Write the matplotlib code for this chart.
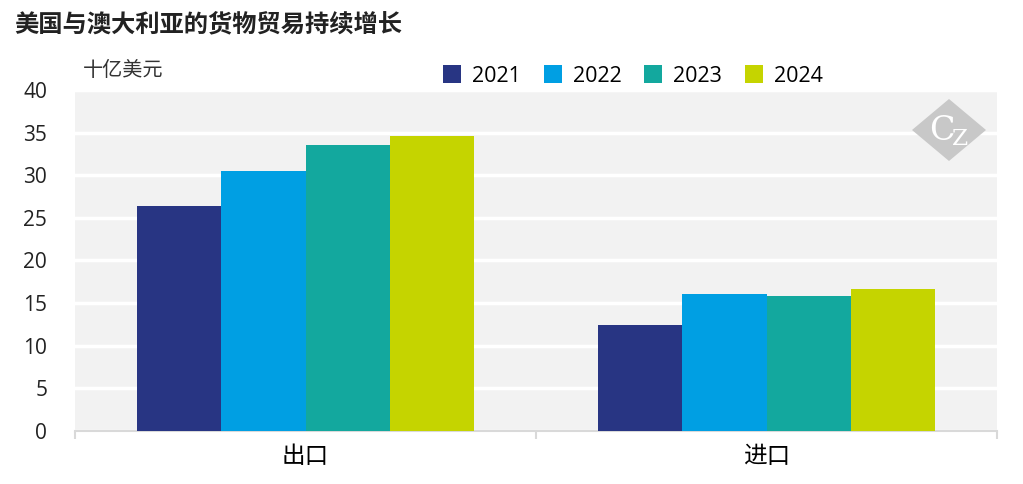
import numpy as np
import matplotlib.pyplot as plt
from matplotlib.patches import Polygon

plt.rcParams['font.family'] = ['Open Sans', 'Noto Sans CJK SC', 'DejaVu Sans']

categories = ['出口', '进口']
years = ['2021', '2022', '2023', '2024']
values = {
    '2021': [26.4, 12.4],
    '2022': [30.5, 16.1],
    '2023': [33.5, 15.8],
    '2024': [34.6, 16.7],
}
colors = ['#283583', '#009fe3', '#13a89e', '#c5d400']

fig = plt.figure(figsize=(10.23, 4.84), dpi=100)
ax = fig.add_axes([75 / 1023, 1 - 431 / 484, 922 / 1023, 341 / 484])
ax.set_facecolor('#f2f2f2')

x = np.arange(len(categories))
w = 0.73 / len(years)
for i, yr in enumerate(years):
    ax.bar(x + (i - 1.5) * w, values[yr], w, color=colors[i], label=yr, zorder=3)

ax.set_xlim(-0.5, 1.5)
ax.set_ylim(0, 40)
ax.set_yticks(np.arange(0, 41, 5))
ax.yaxis.grid(True, color='white', linewidth=2.5, zorder=1)
ax.tick_params(axis='y', length=0, labelsize=15, colors='#222222', pad=20)
ax.set_xticks(x)
ax.set_xticklabels(categories, fontsize=17, family=['Noto Sans CJK SC'], fontweight='light')
ax.set_xticks([-0.5, 0.5, 1.5], minor=True)
ax.tick_params(axis='x', which='major', length=0, pad=10)
ax.tick_params(axis='x', which='minor', length=6, color='#d9d9d9', width=1.5)
for s in ['top', 'right', 'left']:
    ax.spines[s].set_visible(False)
ax.spines['bottom'].set_color('#d9d9d9')
ax.spines['bottom'].set_linewidth(1.5)

leg = ax.legend(loc='lower left', bbox_to_anchor=(0.39, 0.985), ncol=4, frameon=False,
                fontsize=15.5, handlelength=0.85, handleheight=0.85, handletextpad=0.5,
                columnspacing=1.05, borderaxespad=0)

fig.text(14 / 1023, 1 - 24 / 484, '美国与澳大利亚的货物贸易持续增长', fontsize=17.5,
         fontweight='bold', family=['Noto Sans CJK SC'], color='#222222', va='center')
fig.text(83 / 1023, 1 - 71 / 484, '十亿美元', fontsize=14.5, family=['Noto Sans CJK SC'],
         fontweight='light', color='#333333', va='center')

# logo
cx, cy, hw, hh = 949, 130, 37, 31
pts = [(cx - hw, cy), (cx, cy - hh), (cx + hw, cy), (cx, cy + hh)]
fig.patches.append(Polygon([(px / 1023, 1 - py / 484) for px, py in pts], closed=True,
                           transform=fig.transFigure, facecolor='#c8c8c8', edgecolor='none', zorder=5))
fig.text(cx / 1023, 1 - (cy + 1) / 484, r'$\mathrm{C}_{\!\mathrm{Z}}$', fontsize=24,
         math_fontfamily='dejavuserif', color='white', ha='center', va='center', zorder=6)

fig.savefig('out.png', dpi=100)
